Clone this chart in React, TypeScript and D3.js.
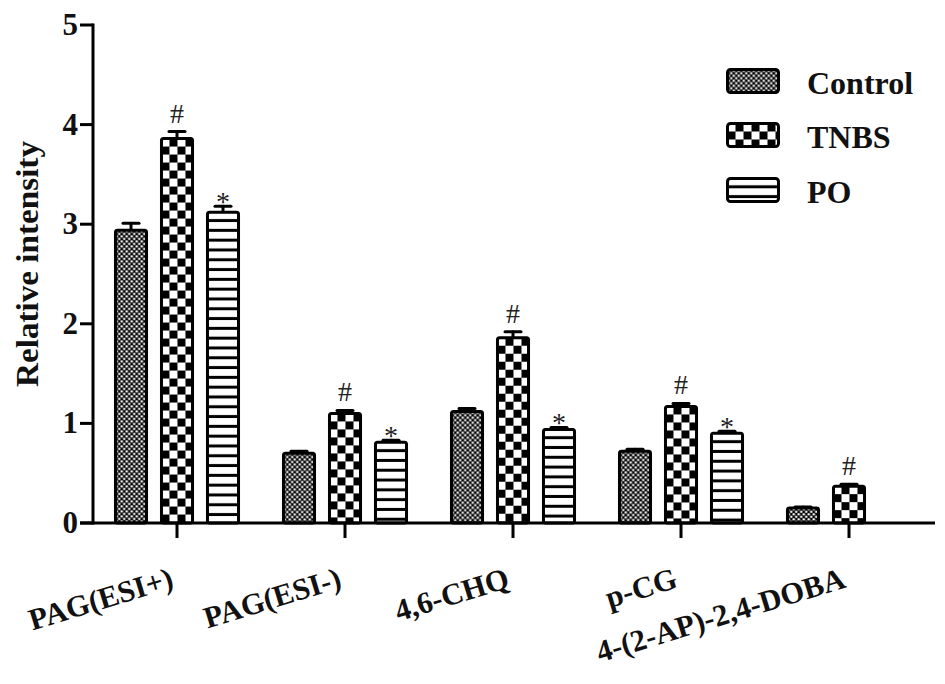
import React from "react";
import * as d3 from "d3";

const categories = ["PAG(ESI+)", "PAG(ESI-)", "4,6-CHQ", "p-CG", "4-(2-AP)-2,4-DOBA"];
const seriesNames = ["Control", "TNBS", "PO"];
const controlValues = [2.94, 0.70, 1.12, 0.72, 0.15];
const tnbsValues = [3.86, 1.10, 1.86, 1.17, 0.37];
const poValues: (number | null)[] = [3.12, 0.81, 0.94, 0.90, null];
const controlErr = [0.07, 0.02, 0.03, 0.02, 0.01];
const tnbsErr = [0.07, 0.03, 0.06, 0.03, 0.02];
const poErr = [0.06, 0.02, 0.02, 0.02, 0];
const tnbsMarks = ["#", "#", "#", "#", "#"];
const poMarks = ["*", "*", "*", "*", ""];
const yTicks = [0, 1, 2, 3, 4, 5];

const W = 945;
const H = 684;
const FONT = "'Liberation Serif', 'Times New Roman', serif";

export default function App() {
  const x0 = d3.scaleBand<string>().domain(categories).range([93, 933]).paddingInner(0).paddingOuter(0);
  const x1 = d3.scaleBand<string>().domain(seriesNames).range([15, 153]).paddingInner(0.26).paddingOuter(0.13);
  const y = d3.scaleLinear().domain([0, 5]).range([523, 25]);

  const series = [
    { name: "Control", values: controlValues as (number | null)[], errs: controlErr, marks: categories.map(() => "") },
    { name: "TNBS", values: tnbsValues as (number | null)[], errs: tnbsErr, marks: tnbsMarks },
    { name: "PO", values: poValues, errs: poErr, marks: poMarks },
  ];

  const bw = x1.bandwidth();
  const bars: any[] = [];
  series.forEach((s, si) => {
    s.values.forEach((v, ci) => {
      if (v == null) return;
      const bx = (x0(categories[ci]) as number) + (x1(s.name) as number);
      bars.push({ si, ci, v, err: s.errs[ci], mark: s.marks[ci], bx, id: `p${si}_${ci}` });
    });
  });

  const patternFor = (si: number, id: string, px: number, py: number) => {
    if (si === 0) {
      return (
        <pattern key={id} id={id} patternUnits="userSpaceOnUse" x={px} y={py} width={5} height={5}>
          <rect width={5} height={5} fill="#000" />
          <circle cx={1.25} cy={1.25} r={1.2} fill="#fff" />
          <circle cx={3.75} cy={3.75} r={1.2} fill="#fff" />
        </pattern>
      );
    }
    if (si === 1) {
      return (
        <pattern key={id} id={id} patternUnits="userSpaceOnUse" x={px} y={py} width={16} height={16}>
          <rect width={16} height={16} fill="#fff" />
          <rect x={8} y={0} width={8} height={8} fill="#000" />
          <rect x={0} y={8} width={8} height={8} fill="#000" />
        </pattern>
      );
    }
    return (
      <pattern key={id} id={id} patternUnits="userSpaceOnUse" x={px} y={py} width={10} height={9.8}>
        <rect width={10} height={9.8} fill="#fff" />
        <rect x={0} y={6.8} width={10} height={3} fill="#000" />
      </pattern>
    );
  };

  const legendY = [81, 135, 190];

  return (
    <svg width={W} height={H} style={{ display: "block", position: "absolute", left: 0, top: 0, background: "#fff" }} fontFamily={FONT}>
      <defs>
        {bars.map((b) => patternFor(b.si, b.id, b.bx + 1.5, y(b.v)))}
        {seriesNames.map((n, si) => patternFor(si, `leg${si}`, 727.5, legendY[si] - 11.5))}
      </defs>
      <rect width={W} height={H} fill="#fff" />

      {bars.map((b) => (
        <g key={b.id}>
          {b.err > 0 && (
            <g stroke="#000" strokeWidth={3} strokeLinecap="round">
              <line x1={b.bx + bw / 2} x2={b.bx + bw / 2} y1={y(b.v)} y2={y(b.v + b.err)} />
              <line x1={b.bx + bw / 2 - 8} x2={b.bx + bw / 2 + 8} y1={y(b.v + b.err)} y2={y(b.v + b.err)} />
            </g>
          )}
          <rect
            x={b.bx + 1.5}
            y={y(b.v)}
            width={bw - 3}
            height={y(0) - y(b.v)}
            fill={`url(#${b.id})`}
            stroke="#000"
            strokeWidth={3}
            rx={2}
          />
          {b.mark === "#" && (
            <text x={b.bx + bw / 2} y={y(b.v + b.err) - 9} textAnchor="middle" fontSize={28} fill="#222">
              #
            </text>
          )}
          {b.mark === "*" && (
            <text x={b.bx + bw / 2} y={y(b.v + b.err) + 5} textAnchor="middle" fontSize={28} fill="#222">
              *
            </text>
          )}
        </g>
      ))}

      <line x1={93} x2={93} y1={y(5) - 1.5} y2={y(0) + 1.5} stroke="#000" strokeWidth={3} />
      <line x1={80} x2={935} y1={y(0)} y2={y(0)} stroke="#000" strokeWidth={3} />
      {yTicks.map((t) => (
        <g key={t}>
          <line x1={80} x2={93} y1={y(t)} y2={y(t)} stroke="#000" strokeWidth={3} />
          <text x={78} y={y(t) + 10} textAnchor="end" fontSize={31} fontWeight="bold" fill="#111">
            {t}
          </text>
        </g>
      ))}
      {categories.map((c) => {
        const cx = (x0(c) as number) + x0.bandwidth() / 2;
        return (
          <g key={c}>
            <line x1={cx} x2={cx} y1={y(0)} y2={y(0) + 15} stroke="#000" strokeWidth={3} />
            <text
              transform={`translate(${cx - 2},587) rotate(-17)`}
              textAnchor="end"
              fontSize={30.5}
              fontWeight="bold"
              fill="#111"
            >
              {c}
            </text>
          </g>
        );
      })}

      <text
        transform={`translate(38,264) rotate(-90)`}
        textAnchor="middle"
        fontSize={31}
        fontWeight="bold"
        fill="#111"
        textLength={246}
        lengthAdjust="spacingAndGlyphs"
      >
        Relative intensity
      </text>

      {seriesNames.map((n, si) => (
        <g key={n}>
          <rect
            x={727.5}
            y={legendY[si] - 11.5}
            width={51}
            height={23}
            rx={3}
            fill={`url(#leg${si})`}
            stroke="#000"
            strokeWidth={3}
          />
          <text x={807} y={legendY[si] + 13} fontSize={32} fontWeight="bold" fill="#111">
            {n}
          </text>
        </g>
      ))}
    </svg>
  );
}
